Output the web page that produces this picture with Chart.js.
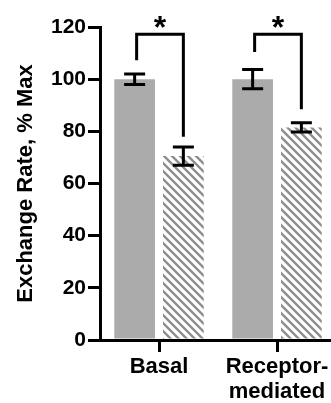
<!DOCTYPE html>
<html>
<head>
<meta charset="utf-8">
<script src="https://cdn.jsdelivr.net/npm/chart.js@4.4.1/dist/chart.umd.min.js"></script>
<style>
  html, body { margin: 0; padding: 0; background: #fff; overflow: hidden; }
  #wrap { position: relative; width: 336px; height: 403px; }
</style>
</head>
<body>
<div id="wrap"><canvas id="rateChart"></canvas></div>
<script>
// values (% of max exchange rate)
const categories = ['Basal', ['Receptor-', 'mediated']];
const controlRate = [100, 100];
const controlErr = [2, 3.7];
const treatedRate = [70.5, 81.5];
const treatedErr = [3.5, 1.8];
const yTicks = [0, 20, 40, 60, 80, 100, 120];

// significance brackets, in % Max
const bracketLeft = [107.3, 110.4];
const bracketTop = [117.2, 117.2];
const bracketRight = [77.9, 88.5];
const sigMarks = ['*', '*'];

const FONT = '"Liberation Sans", Arial, Helvetica, sans-serif';

function hatch() {
    const c = document.createElement('canvas');
    c.width = 8;
    c.height = 8;
    const g = c.getContext('2d');
    g.fillStyle = '#fff';
    g.fillRect(0, 0, 8, 8);
    g.strokeStyle = '#8e8e8e';
    g.lineWidth = 2.4;
    g.beginPath();
    g.moveTo(-2, -2); g.lineTo(10, 10);
    g.moveTo(-10, -2); g.lineTo(2, 10);
    g.moveTo(6, -2); g.lineTo(18, 10);
    g.stroke();
    return g.createPattern(c, 'repeat');
}

const errorBars = {
    id: 'errorBars',
    afterDatasetsDraw(chart) {
        const ctx = chart.ctx;
        const y = chart.scales.y;
        const errs = [controlErr, treatedErr];
        ctx.save();
        ctx.strokeStyle = '#000';
        ctx.lineWidth = 3;
        chart.data.datasets.forEach((ds, i) => {
            chart.getDatasetMeta(i).data.forEach((bar, j) => {
                const hi = y.getPixelForValue(ds.data[j] + errs[i][j]);
                const lo = y.getPixelForValue(ds.data[j] - errs[i][j]);
                const half = 10.5;
                ctx.beginPath();
                ctx.moveTo(bar.x, hi); ctx.lineTo(bar.x, lo);
                ctx.moveTo(bar.x - half, hi); ctx.lineTo(bar.x + half, hi);
                ctx.moveTo(bar.x - half, lo); ctx.lineTo(bar.x + half, lo);
                ctx.stroke();
            });
        });
        ctx.restore();
    }
};

const brackets = {
    id: 'brackets',
    afterDraw(chart) {
        const ctx = chart.ctx;
        const y = chart.scales.y;
        const left = chart.getDatasetMeta(0).data;
        const right = chart.getDatasetMeta(1).data;
        ctx.save();
        ctx.strokeStyle = '#000';
        ctx.fillStyle = '#000';
        ctx.lineWidth = 3;
        ctx.lineJoin = 'miter';
        categories.forEach((c, j) => {
            const x1 = left[j].x + 2;
            const x2 = right[j].x;
            const top = y.getPixelForValue(bracketTop[j]);
            ctx.beginPath();
            ctx.moveTo(x1, y.getPixelForValue(bracketLeft[j]));
            ctx.lineTo(x1, top);
            ctx.lineTo(x2, top);
            ctx.lineTo(x2, y.getPixelForValue(bracketRight[j]));
            ctx.stroke();
            ctx.font = 'bold 32px ' + FONT;
            ctx.textAlign = 'center';
            ctx.textBaseline = 'alphabetic';
            ctx.fillText(sigMarks[j], (x1 + x2) / 2, top + 4);
        });
        ctx.restore();
    }
};

new Chart(document.getElementById('rateChart'), {
    type: 'bar',
    data: {
        labels: categories,
        datasets: [
            {
                label: 'Control',
                data: controlRate,
                backgroundColor: '#ababab',
                borderWidth: 0,
                categoryPercentage: 0.826,
                barPercentage: 0.835
            },
            {
                label: 'Treated',
                data: treatedRate,
                backgroundColor: hatch(),
                borderWidth: 0,
                categoryPercentage: 0.826,
                barPercentage: 0.835
            }
        ]
    },
    options: {
        responsive: true,
        maintainAspectRatio: false,
        animation: false,
        layout: { padding: { top: 27, left: 0, right: 0, bottom: 0 } },
        plugins: {
            legend: { display: false },
            tooltip: { enabled: false }
        },
        scales: {
            x: {
                grid: {
                    display: true,
                    drawOnChartArea: false,
                    drawTicks: true,
                    tickLength: 12,
                    lineWidth: 3,
                    color: '#000',
                    offset: false
                },
                border: { display: true, color: '#000', width: 3 },
                ticks: {
                    color: '#000',
                    font: { family: FONT, size: 22, weight: 'bold', lineHeight: 1.15 },
                    padding: 2,
                    maxRotation: 0,
                    autoSkip: false
                },
                afterFit(scale) { scale.height = 63; }
            },
            y: {
                min: 0,
                max: 120,
                afterBuildTicks(scale) {
                    scale.ticks = yTicks.map(v => ({ value: v }));
                },
                grid: {
                    display: true,
                    drawOnChartArea: false,
                    drawTicks: true,
                    tickLength: 12,
                    lineWidth: 3,
                    color: '#000'
                },
                border: { display: true, color: '#000', width: 3 },
                ticks: {
                    color: '#000',
                    font: { family: FONT, size: 21, weight: 'bold' },
                    padding: 2
                },
                title: {
                    display: true,
                    text: 'Exchange Rate, % Max',
                    color: '#000',
                    font: { family: FONT, size: 22, weight: 'bold' },
                    padding: { top: 13, bottom: 0 }
                },
                afterFit(scale) { scale.width = 100; }
            }
        }
    },
    plugins: [errorBars, brackets]
});
</script>
</body>
</html>
